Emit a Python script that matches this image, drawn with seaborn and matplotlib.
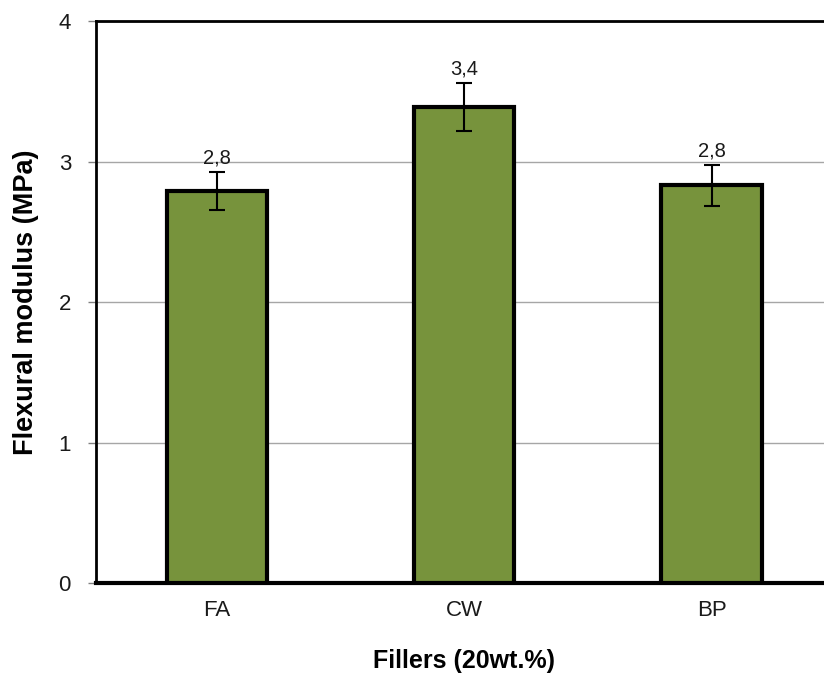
import matplotlib
matplotlib.use("Agg")
import matplotlib.pyplot as plt
import seaborn as sns
import pandas as pd

# Values
fillers = ["FA", "CW", "BP"]
modulus = [2.79, 3.39, 2.83]
modulus_err = [0.135, 0.17, 0.145]
value_labels = ["2,8", "3,4", "2,8"]
y_ticks = [0, 1, 2, 3, 4]

df = pd.DataFrame({"Filler": fillers, "Modulus": modulus})

sns.set_style("white")
plt.rcParams["font.family"] = ["Liberation Sans", "DejaVu Sans"]

fig = plt.figure(figsize=(8.24, 6.73), dpi=100)
ax = fig.add_axes([0.1165, 0.1337, 0.894, 0.835])

sns.barplot(data=df, x="Filler", y="Modulus", color="#77933C", width=0.405,
            edgecolor="black", linewidth=3, saturation=1, ax=ax, zorder=3)

# Error bars and value labels on top of each bar
centers = [p.get_x() + p.get_width() / 2 for p in ax.patches]
ax.errorbar(centers, modulus, yerr=modulus_err, fmt="none", ecolor="black",
            elinewidth=1.5, capsize=6, capthick=1.5, zorder=4)
for xc, val, err, lab in zip(centers, modulus, modulus_err, value_labels):
    ax.annotate(lab, (xc, val + err), xytext=(0, 3), textcoords="offset points",
                ha="center", va="bottom", fontsize=14.5, color="#1a1a1a")

ax.set_ylim(0, 4)
ax.set_xlim(-0.49, 2.49)
ax.set_yticks(y_ticks)
ax.yaxis.grid(True, color="#a6a6a6", linewidth=1, zorder=0)
ax.set_axisbelow(True)

for side in ["left", "top", "bottom"]:
    ax.spines[side].set_color("black")
    ax.spines[side].set_linewidth(2)
ax.spines["bottom"].set_linewidth(3)
ax.spines["right"].set_visible(False)

ax.tick_params(axis="y", left=True, length=6, width=1, color="#808080",
               labelsize=16, labelcolor="#1a1a1a", pad=12)
ax.tick_params(axis="x", bottom=False, labelsize=16, labelcolor="#1a1a1a",
               pad=9)

ax.set_xlabel("Fillers (20wt.%)", fontsize=18, fontweight="bold", labelpad=20,
              color="black")
ax.set_ylabel("Flexural modulus (MPa)", fontsize=19.5, fontweight="bold",
              labelpad=14, color="black")

plt.savefig("out.png", dpi=100)
